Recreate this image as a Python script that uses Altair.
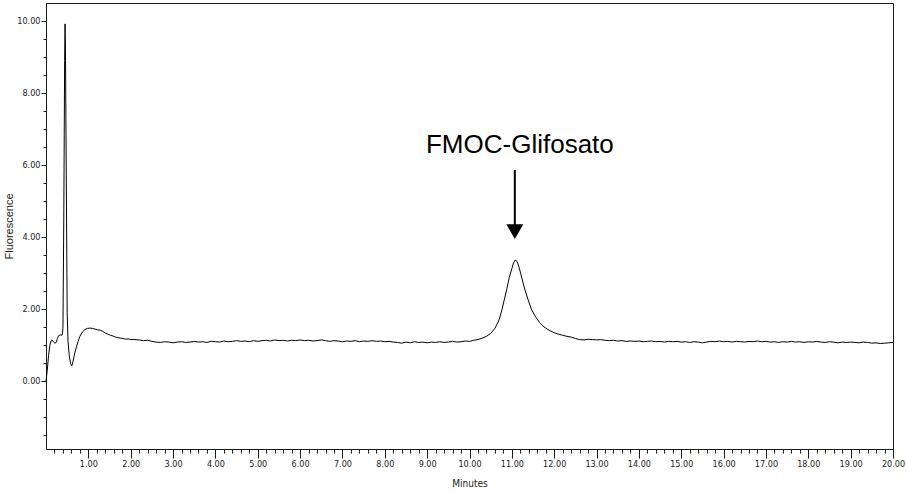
import altair as alt
import numpy as np
import pandas as pd

# --- Chromatogram trace (retention time in minutes, fluorescence signal) ---

# Solvent front and injection spike, 0-2 min
early_t = [0.00, 0.03, 0.06, 0.09, 0.12, 0.14, 0.17, 0.21, 0.24, 0.27,
           0.30, 0.34, 0.38, 0.40, 0.42, 0.44, 0.45, 0.46, 0.48, 0.50,
           0.52, 0.55, 0.58, 0.61, 0.64, 0.68, 0.72, 0.76, 0.80, 0.86,
           0.92, 0.98, 1.04, 1.10, 1.16, 1.22, 1.28, 1.34, 1.40, 1.46,
           1.52, 1.58, 1.64, 1.70, 1.76, 1.82, 1.88, 1.94, 2.00]
early_v = [0.00, 0.30, 0.70, 0.98, 1.12, 1.14, 1.09, 1.05, 1.07, 1.18,
           1.26, 1.28, 1.27, 1.45, 4.50, 8.90, 9.92, 9.20, 5.50, 1.90,
           1.10, 0.70, 0.48, 0.42, 0.55, 0.78, 0.95, 1.10, 1.24, 1.36,
           1.43, 1.46, 1.47, 1.46, 1.44, 1.42, 1.41, 1.38, 1.33, 1.30,
           1.27, 1.25, 1.22, 1.20, 1.19, 1.18, 1.16, 1.17, 1.15]

# Baseline, 2.1-9.9 min every 0.1 min
base1_v = [1.15, 1.14, 1.12, 1.13, 1.10, 1.08, 1.07, 1.09, 1.08, 1.06,
           1.08, 1.09, 1.07, 1.08, 1.10, 1.08, 1.09, 1.07, 1.10, 1.09,
           1.08, 1.11, 1.09, 1.10, 1.12, 1.10, 1.11, 1.09, 1.12, 1.10,
           1.12, 1.13, 1.11, 1.14, 1.12, 1.13, 1.11, 1.13, 1.12, 1.14,
           1.12, 1.13, 1.11, 1.12, 1.14, 1.12, 1.10, 1.12, 1.11, 1.09,
           1.11, 1.10, 1.12, 1.09, 1.11, 1.10, 1.12, 1.10, 1.11, 1.09,
           1.10, 1.08, 1.07, 1.05, 1.08, 1.06, 1.09, 1.07, 1.08, 1.06,
           1.08, 1.07, 1.09, 1.07, 1.08, 1.10, 1.08, 1.09, 1.11]

# FMOC-Glifosato peak, 10.0-12.2 min
peak_t = [10.00, 10.10, 10.20, 10.30, 10.40, 10.50, 10.60, 10.70, 10.76, 10.82,
          10.88, 10.94, 11.00, 11.04, 11.08, 11.10, 11.13, 11.17, 11.21, 11.26,
          11.31, 11.38, 11.46, 11.55, 11.65, 11.76, 11.88, 12.00, 12.10, 12.20]
peak_v = [1.10, 1.13, 1.15, 1.19, 1.24, 1.32, 1.46, 1.70, 1.95, 2.25,
          2.55, 2.88, 3.12, 3.28, 3.36, 3.35, 3.30, 3.16, 2.98, 2.75,
          2.53, 2.27, 2.00, 1.80, 1.63, 1.50, 1.41, 1.34, 1.30, 1.27]

# Baseline, 12.3-20.0 min every 0.1 min
base2_v = [1.24, 1.22, 1.18, 1.15, 1.14, 1.16, 1.15,
           1.14, 1.15, 1.13, 1.12, 1.13, 1.11, 1.12, 1.10, 1.11, 1.10,
           1.11, 1.09, 1.10, 1.11, 1.09, 1.10, 1.08, 1.10, 1.09, 1.10,
           1.08, 1.09, 1.07, 1.09, 1.08, 1.06, 1.08, 1.10, 1.09, 1.11,
           1.09, 1.10, 1.08, 1.10, 1.09, 1.08, 1.10, 1.09, 1.11, 1.09,
           1.10, 1.08, 1.09, 1.07, 1.09, 1.08, 1.10, 1.08, 1.09, 1.07,
           1.09, 1.08, 1.10, 1.08, 1.07, 1.09, 1.08, 1.06, 1.08, 1.07,
           1.08, 1.07, 1.06, 1.08, 1.07, 1.05, 1.06, 1.04, 1.05, 1.06,
           1.07]

base1_t = list(np.round(np.arange(21, 100) / 10, 1))
base2_t = list(np.round(np.arange(123, 201) / 10, 1))

# --- Axis ticks ---
x_labels = [float(m) for m in range(1, 21)]            # labelled minutes
x_minor = [round(0.2 * i, 1) for i in range(1, 101)]   # every 0.2 min
y_labels = [0.0, 2.0, 4.0, 6.0, 8.0, 10.0]
y_minor = [0.5 * i for i in range(-3, 21)]             # every 0.5 units

x_domain = [0, 20]
y_domain = [-1.89, 10.5]

# --- Peak annotation ---
label_text = ["FMOC-Glifosato"]
label_t = [11.19]
label_v = [6.33]
arrow_t = [11.07]
arrow_top = [5.86]
arrow_bottom = [4.30]
head_v = [4.15]

trace = pd.DataFrame({
    "t": early_t + base1_t + peak_t + base2_t,
    "v": early_v + base1_v + peak_v + base2_v,
})
label_df = pd.DataFrame({"t": label_t, "v": label_v, "txt": label_text})
arrow_df = pd.DataFrame({"t": arrow_t, "v": arrow_top, "v2": arrow_bottom})
head_df = pd.DataFrame({"t": arrow_t, "v": head_v})

NARROW = "Liberation Sans Narrow, Arial Narrow, DejaVu Sans Condensed, sans-serif"
INK = "#1a1a1a"

x_scale = alt.Scale(domain=x_domain, nice=False, zero=False)
y_scale = alt.Scale(domain=y_domain, nice=False, zero=False)

x_major_axis = alt.Axis(
    values=x_labels, format=".2f", tickSize=9, tickColor=INK, tickWidth=1,
    domainColor=INK, labelFont=NARROW, labelFontSize=9, labelColor=INK,
    labelPadding=1, labelOverlap=False, labelFlush=False, grid=False,
    title="Minutes", titleFont=NARROW, titleFontSize=10,
    titleFontWeight="normal", titleColor=INK, titlePadding=10, orient="bottom",
)
y_major_axis = alt.Axis(
    values=y_labels, format=".2f", tickSize=5, tickColor=INK, tickWidth=1,
    domainColor=INK, labelFont=NARROW, labelFontSize=9, labelColor=INK,
    labelPadding=1, labelOverlap=False, labelFlush=False, grid=False,
    title="Fluorescence", titleFont="Liberation Sans", titleFontSize=11,
    titleFontWeight="normal", titleColor=INK, titlePadding=2, orient="left",
)
x_minor_axis = alt.Axis(
    values=x_minor, tickSize=4, tickColor=INK, tickWidth=1, labels=False,
    domain=False, grid=False, title=None, orient="bottom",
)
y_minor_axis = alt.Axis(
    values=y_minor, tickSize=3, tickColor=INK, tickWidth=1, labels=False,
    domain=False, grid=False, title=None, orient="left",
)

line = alt.Chart(trace).mark_line(color="black", strokeWidth=1).encode(
    x=alt.X("t:Q", scale=x_scale, axis=x_major_axis),
    y=alt.Y("v:Q", scale=y_scale, axis=y_major_axis),
)

label = alt.Chart(label_df).mark_text(
    font="Liberation Sans", fontSize=26, color="black",
    align="center", baseline="alphabetic",
).encode(
    x=alt.X("t:Q", scale=x_scale, axis=x_minor_axis),
    y=alt.Y("v:Q", scale=y_scale, axis=y_minor_axis),
    text="txt:N",
)

shaft = alt.Chart(arrow_df).mark_rule(color="black", strokeWidth=2).encode(
    x=alt.X("t:Q", scale=x_scale, axis=None),
    y=alt.Y("v:Q", scale=y_scale, axis=None),
    y2="v2:Q",
)

head = alt.Chart(head_df).mark_point(
    shape="triangle-down", size=289, filled=True, color="black", opacity=1,
    strokeWidth=0,
).encode(
    x=alt.X("t:Q", scale=x_scale, axis=None),
    y=alt.Y("v:Q", scale=y_scale, axis=None),
)

chart = (
    alt.layer(line, label, shaft, head)
    .resolve_axis(x="independent", y="independent")
    .properties(
        width=847, height=446,
        autosize=alt.AutoSizeParams(type="none"),
        padding={"left": 46, "top": 3, "right": 13, "bottom": 45},
        background="white",
    )
    .configure_view(stroke=INK, strokeWidth=1)
)

chart.save("out.html", embed_options={"renderer": "svg", "actions": False})
